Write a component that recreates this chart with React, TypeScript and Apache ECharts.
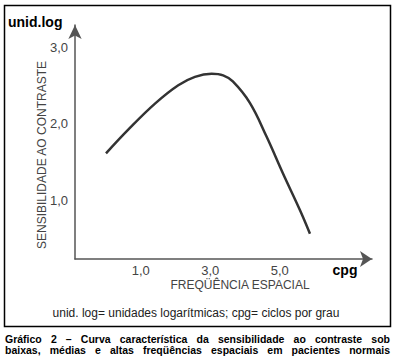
import React, { useEffect, useRef } from "react";
import * as echarts from "echarts";

const frequencies = [0, 0.64, 1.41, 2.08, 2.56, 3.04, 3.37, 3.65, 4.14, 4.62, 5.09, 5.58, 5.87];
const sensitivity = [1.61, 1.92, 2.26, 2.5, 2.61, 2.65, 2.63, 2.55, 2.27, 1.83, 1.35, 0.87, 0.56];
const xTicks = [1, 3, 5];
const yTicks = [1, 2, 3];
const yUnit = "unid.log";
const xUnit = "cpg";
const yTitle = "SENSIBILIDADE AO CONTRASTE";
const xTitle = "FREQÜÊNCIA ESPACIAL";
const footnote = "unid. log= unidades logarítmicas; cpg= ciclos por grau";
const captionLines = [
  "Gráfico 2 – Curva característica da sensibilidade ao contraste sob",
  "baixas, médias e altas freqüências espaciais em pacientes normais",
];

const FONT = "'Liberation Sans', Arial, Helvetica, sans-serif";

function justifiedWords(line: string, x0: number, x1: number, y: number, size: number) {
  const font = `bold ${size}px ${FONT}`;
  const canvas = document.createElement("canvas");
  const ctx = canvas.getContext("2d")!;
  ctx.font = font;
  const words = line.split(" ");
  const widths = words.map((w) => ctx.measureText(w).width);
  const total = widths.reduce((a, b) => a + b, 0);
  const gap = (x1 - x0 - total) / (words.length - 1);
  let x = x0;
  return words.map((w, i) => {
    const el = {
      type: "text",
      x,
      y,
      style: {
        text: w,
        fontSize: size,
        fontWeight: "bold",
        fontFamily: FONT,
        lineHeight: size,
        fill: "#000",
        textAlign: "left",
        textVerticalAlign: "middle",
      },
    };
    x += widths[i] + gap;
    return el;
  });
}

export default function App() {
  const ref = useRef<HTMLDivElement>(null);
  useEffect(() => {
    document.body.style.margin = "0";
    const chart = echarts.init(ref.current!, null, { renderer: "svg" });
    const fmt = (v: number) => v.toFixed(1).replace(".", ",");
    const caption: any[] = [];
    captionLines.forEach((l, i) => {
      caption.push(...justifiedWords(l, 5, 390, 338.5 + i * 11.5, 10.5));
    });
    chart.setOption({
      animation: false,
      backgroundColor: "#fff",
      grid: { left: 75, right: 23, top: 25, bottom: 104 },
      xAxis: {
        type: "value",
        min: -0.892,
        max: 7.655,
        axisLine: {
          show: true,
          onZero: false,
          lineStyle: { color: "#555", width: 1.5 },
          symbol: ["none", "arrow"],
          symbolSize: [12, 12],
        },
        axisTick: { show: false },
        splitLine: { show: false },
        axisLabel: {
          customValues: xTicks,
          formatter: fmt,
          margin: 5,
          fontSize: 13,
          color: "#444",
          fontFamily: FONT,
        },
      },
      yAxis: {
        type: "value",
        min: 0.229,
        max: 3.288,
        axisLine: {
          show: true,
          onZero: false,
          lineStyle: { color: "#555", width: 1.5 },
          symbol: ["none", "arrow"],
          symbolSize: [10, 14],
        },
        axisTick: { show: false },
        splitLine: { show: false },
        axisLabel: {
          customValues: yTicks,
          formatter: fmt,
          margin: 7,
          fontSize: 13,
          color: "#444",
          fontFamily: FONT,
        },
      },
      series: [
        {
          type: "line",
          data: frequencies.map((f, i) => [f, sensitivity[i]]),
          smooth: 0.4,
          showSymbol: false,
          lineStyle: { color: "#333", width: 2.5 },
        },
      ],
      graphic: [
        {
          type: "rect",
          shape: { x: 4.5, y: 5.5, width: 386, height: 321 },
          style: { fill: "none", stroke: "#000", lineWidth: 1.5 },
          silent: true,
        },
        {
          type: "text",
          x: 8,
          y: 22,
          style: { text: yUnit, font: `bold 14px ${FONT}`, fill: "#000", textVerticalAlign: "middle" },
        },
        {
          type: "text",
          x: 42,
          y: 155,
          rotation: Math.PI / 2,
          style: {
            text: yTitle,
            font: `12px ${FONT}`,
            fill: "#444",
            textAlign: "center",
            textVerticalAlign: "middle",
          },
        },
        {
          type: "text",
          x: 345,
          y: 270,
          style: {
            text: xUnit,
            font: `bold 14px ${FONT}`,
            fill: "#000",
            textAlign: "center",
            textVerticalAlign: "middle",
          },
        },
        {
          type: "text",
          x: 240,
          y: 285,
          style: {
            text: xTitle,
            font: `12px ${FONT}`,
            fill: "#444",
            textAlign: "center",
            textVerticalAlign: "middle",
          },
        },
        {
          type: "text",
          x: 196,
          y: 313,
          style: {
            text: footnote,
            font: `12px ${FONT}`,
            fill: "#222",
            textAlign: "center",
            textVerticalAlign: "middle",
          },
        },
        ...caption,
      ],
    });
    return () => chart.dispose();
  }, []);
  return <div ref={ref} style={{ width: 395, height: 363 }} />;
}
